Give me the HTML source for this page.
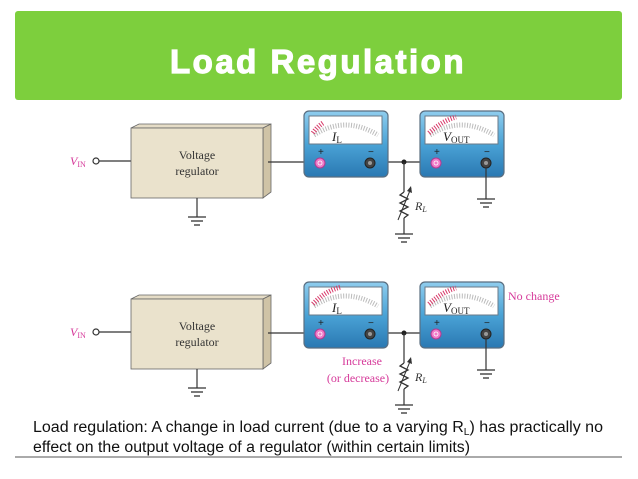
<!DOCTYPE html>
<html><head><meta charset="utf-8"><style>
html,body{margin:0;padding:0;background:#fff;width:638px;height:479px;overflow:hidden}
svg{display:block}
</style></head><body>
<svg width="638" height="479" viewBox="0 0 638 479" xmlns="http://www.w3.org/2000/svg" font-family="Liberation Serif, serif">
<defs>
<linearGradient id="mb" x1="0" y1="0" x2="0" y2="1">
<stop offset="0" stop-color="#8fcdee"/><stop offset="0.5" stop-color="#4aa3d6"/><stop offset="1" stop-color="#2a78b2"/>
</linearGradient>
<g id="gnd" stroke="#333" stroke-width="1.3"><line x1="-9" y1="0" x2="9" y2="0"/><line x1="-6" y1="4" x2="6" y2="4"/><line x1="-3" y1="8" x2="3" y2="8"/></g>
<g id="meter">
<rect x="0" y="0" width="84" height="66" rx="5" fill="url(#mb)" stroke="#5a6e80" stroke-width="1.2"/>
<rect x="5" y="5" width="73" height="28" fill="#fff" stroke="#6a7a88" stroke-width="1"/>
<path d="M10 24 Q41 4 74 24" fill="none" stroke="#bbb" stroke-width="5" stroke-dasharray="1 1.6"/>
<text x="14" y="44" font-family="Liberation Sans, sans-serif" font-size="10" fill="#222">+</text>
<text x="64" y="44" font-family="Liberation Sans, sans-serif" font-size="10" fill="#222">−</text>
<circle cx="16" cy="52" r="5" fill="#f07ac8" stroke="#b03a90"/>
<circle cx="16" cy="52" r="2" fill="none" stroke="#fff" stroke-width="0.8"/>
<circle cx="66" cy="52" r="5" fill="#444" stroke="#222"/>
<circle cx="66" cy="52" r="2" fill="#999"/>
</g>
<g id="circ">
<line x1="99" y1="161" x2="131" y2="161" stroke="#333" stroke-width="1.2"/>
<circle cx="96" cy="161" r="3" fill="#fff" stroke="#333" stroke-width="1.2"/>
<text x="70" y="165" font-size="12" font-style="italic" fill="#d63a9a">V<tspan font-size="8" font-style="normal" dy="2">IN</tspan></text>
<polygon points="131,128 139,124 271,124 263,128" fill="#e5dcc6" stroke="#666" stroke-width="0.8"/>
<polygon points="263,128 271,124 271,192 263,198" fill="#cfc3a6" stroke="#666" stroke-width="0.8"/>
<rect x="131" y="128" width="132" height="70" fill="#eae2cc" stroke="#666" stroke-width="0.8"/>
<text x="197" y="159" font-size="12" text-anchor="middle" fill="#333">Voltage</text>
<text x="197" y="175" font-size="12" text-anchor="middle" fill="#333">regulator</text>
<line x1="197" y1="198" x2="197" y2="217" stroke="#333" stroke-width="1.2"/>
<use href="#gnd" x="197" y="217"/>
<line x1="268" y1="162" x2="316" y2="162" stroke="#333" stroke-width="1.2"/>
<line x1="370" y1="162" x2="436" y2="162" stroke="#333" stroke-width="1.2"/>
<circle cx="404" cy="162" r="2.5" fill="#222"/>
<line x1="404" y1="162" x2="404" y2="192" stroke="#333" stroke-width="1.2"/>
<polyline points="404,192 400,195 408,199 400,203 408,207 400,211 408,215 404,218" fill="none" stroke="#333" stroke-width="1.3"/>
<line x1="398" y1="220" x2="411" y2="188" stroke="#333" stroke-width="1"/>
<polygon points="411,186 412,193 407,191" fill="#333"/>
<line x1="404" y1="218" x2="404" y2="234" stroke="#333" stroke-width="1.2"/>
<use href="#gnd" x="404" y="234"/>
<text x="415" y="210" font-size="12" font-style="italic" fill="#333">R<tspan font-size="8" dy="2">L</tspan></text>
<use href="#meter" x="304" y="111"/>
<use href="#meter" x="420" y="111"/>
<line x1="486" y1="168" x2="486" y2="199" stroke="#333" stroke-width="1.2"/>
<use href="#gnd" x="486" y="199"/>
<text x="332" y="141" font-size="13" font-style="italic" fill="#222">I<tspan font-size="9" font-style="normal" dy="2">L</tspan></text>
<text x="443" y="141" font-size="13" font-style="italic" fill="#222">V<tspan font-size="9" font-style="normal" dy="2">OUT</tspan></text>
</g>
</defs>
<rect x="15" y="11" width="607" height="89" rx="3" fill="#7dcf3d"/>
<text x="318" y="73" text-anchor="middle" font-family="Liberation Sans, sans-serif" font-weight="bold" font-size="33" letter-spacing="2.5" fill="#fff" stroke="#fff" stroke-width="1.2">Load Regulation</text>
<use href="#circ"/>
<path d="M313 133 Q317 127 323 123" fill="none" stroke="#d83a6a" stroke-width="5" stroke-dasharray="1 1.6"/>
<path d="M429 133 Q442 121 456 117" fill="none" stroke="#d83a6a" stroke-width="5" stroke-dasharray="1 1.6"/>
<use href="#circ" y="171"/>
<path d="M313 304 Q325 291 341 287" fill="none" stroke="#d83a6a" stroke-width="5" stroke-dasharray="1 1.6"/>
<path d="M429 304 Q442 292 456 288" fill="none" stroke="#d83a6a" stroke-width="5" stroke-dasharray="1 1.6"/>
<text x="508" y="300" font-size="12" fill="#d63a9a">No change</text>
<text x="362" y="365" font-size="12" text-anchor="middle" fill="#d63a9a">Increase</text>
<text x="358" y="382" font-size="12" text-anchor="middle" fill="#d63a9a">(or decrease)</text>
<g font-family="Liberation Sans, sans-serif" font-size="15.5" fill="#111">
<text x="33" y="432" textLength="570" lengthAdjust="spacingAndGlyphs">Load regulation: A change in load current (due to a varying R<tspan font-size="10" dy="3">L</tspan><tspan dy="-3">) has practically no</tspan></text>
<text x="33" y="452" textLength="437" lengthAdjust="spacingAndGlyphs">effect on the output voltage of a regulator (within certain limits)</text>
</g>
<line x1="15" y1="457" x2="622" y2="457" stroke="#555" stroke-width="1"/>
</svg>
</body></html>
